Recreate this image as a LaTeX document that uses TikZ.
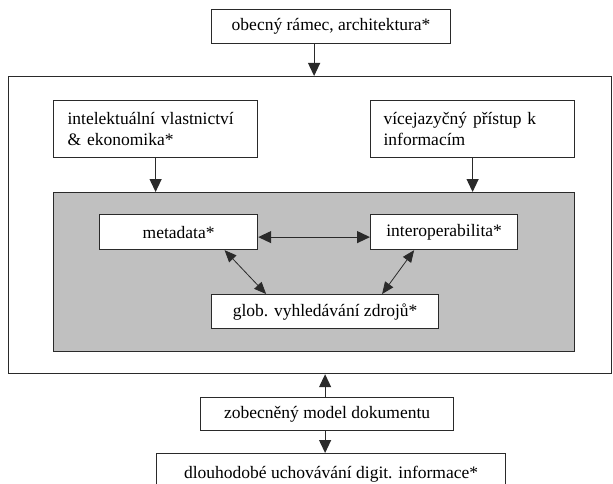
\documentclass[tikz,border=0pt]{standalone}
\usepackage{fontspec}
\setmainfont{Liberation Serif}
\usetikzlibrary{arrows.meta}
\definecolor{ln}{HTML}{2A2A2A}
\definecolor{grayfill}{HTML}{C0C0C0}
\tikzset{
  box/.style={draw=ln, line width=1.2pt, fill=white, rectangle, inner sep=0pt, anchor=north west,
    font=\fontsize{17.5}{21}\selectfont},
  arr/.style={draw=ln, line width=1.2pt, -{Triangle[length=13pt,width=12pt]}},
  darr/.style={draw=ln, line width=1.2pt, {Triangle[length=13pt,width=12pt]}-{Triangle[length=13pt,width=12pt]}},
  sarr/.style={draw=ln, line width=0.8pt, {Triangle[length=12pt,width=10pt]}-{Triangle[length=12pt,width=10pt]}}
}
\begin{document}
\begin{tikzpicture}[x=1pt,y=-1pt]
\useasboundingbox (0,0) rectangle (613,484);
% outer frame
\node[box, minimum width=603pt, minimum height=297pt] (frame) at (8,76) {};
% gray area
\node[box, fill=grayfill, minimum width=521pt, minimum height=159pt] (gray) at (53,192) {};
% top box
\node[box, minimum width=239pt, minimum height=34pt] (top) at (211,9) {obecný rámec, architektura*};
% left and right boxes
\node[box, minimum width=204pt, minimum height=57pt, text width=176pt, inner xsep=14pt, align=left] (ipr) at (53,100)
  {intelektuální vlastnictví\\\& ekonomika*};
\node[box, minimum width=204pt, minimum height=57pt, text width=178pt, inner xsep=13pt, align=left] (multi) at (370,100)
  {vícejazyčný přístup k\\informacím};
% inner boxes
\node[box, minimum width=158pt, minimum height=35pt] (meta) at (99,214) {metadata*};
\node[box, minimum width=147pt, minimum height=35pt] (inter) at (370,214) {interoperabilita*};
\node[box, minimum width=227pt, minimum height=34pt] (glob) at (211,294) {glob. vyhledávání zdrojů*};
% bottom boxes
\node[box, minimum width=253pt, minimum height=33pt] (model) at (200,397) {zobecněný model dokumentu};
\node[box, minimum width=349pt, minimum height=40pt, text depth=0pt] (long) at (156,453) {\raisebox{3pt}{dlouhodobé uchovávání digit. informace*}};
% connectors
\draw[arr] ([xshift=-17pt]top.south) -- ([xshift=-17pt]top.south |- frame.north);
\draw[arr] (ipr.south) -- (ipr.south |- gray.north);
\draw[arr] (multi.south) -- (multi.south |- gray.north);
\path (meta.east) ++(0,5) coordinate (m1) (inter.west) ++(0,5) coordinate (i1);
\draw[darr] (m1) -- (i1);
\draw[sarr] ([xshift=46pt]meta.south) -- ([xshift=-59pt]glob.north);
\draw[sarr] ([xshift=-30pt]inter.south) -- ([xshift=57pt]glob.north);
\draw[arr] ([xshift=-2pt]model.north) -- ([xshift=-2pt]model.north |- frame.south);
\draw[arr] ([xshift=-2pt]model.south) -- ([xshift=-2pt]model.south |- long.north);
\end{tikzpicture}
\end{document}
